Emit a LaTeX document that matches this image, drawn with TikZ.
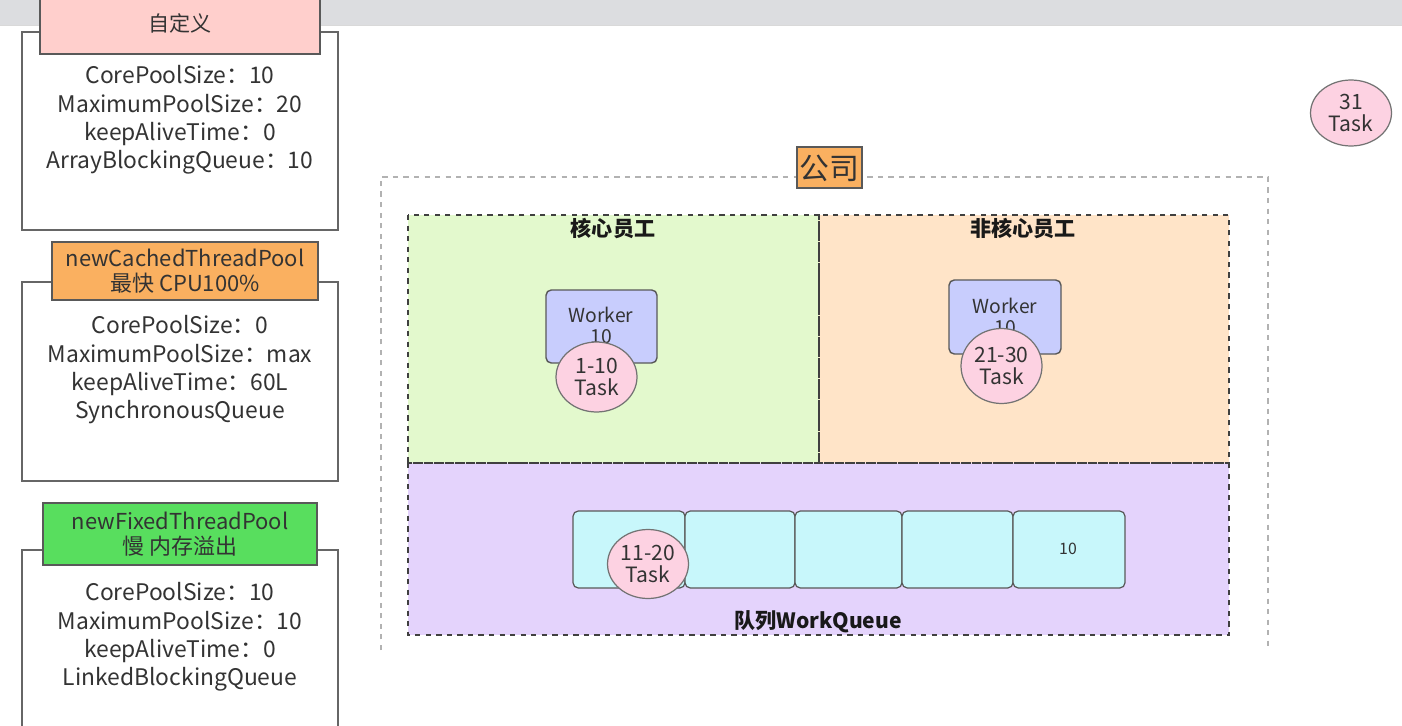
\documentclass[tikz,border=0pt]{standalone}
\usepackage{fontspec}
\setmainfont{Noto Sans CJK SC}
\usetikzlibrary{shapes.geometric}
\definecolor{bandgray}{HTML}{DCDDE0}
\definecolor{hdrpink}{HTML}{FFCFCC}
\definecolor{hdrorange}{HTML}{FAB060}
\definecolor{hdrgreen}{HTML}{58DE5E}
\definecolor{coregreen}{HTML}{E3F9CD}
\definecolor{extraorange}{HTML}{FFE4C8}
\definecolor{queuepurple}{HTML}{E4D3FC}
\definecolor{workerblue}{HTML}{C8CDFD}
\definecolor{taskpink}{HTML}{FDD2E2}
\definecolor{cellcyan}{HTML}{C8F7FB}
\definecolor{inkgray}{HTML}{333333}
\tikzset{
  hdr/.style = {draw = black!65, line width = 0.7pt},
  infobox/.style = {draw = black!60, line width = 0.7pt, fill = white},
  infotext/.style = {align = center, text = inkgray, font = \fontsize{13}{16.1}\selectfont},
  hdrtext/.style = {align = center, text = inkgray, font = \fontsize{12.5}{14.5}\selectfont},
  region/.style = {draw = black!75, dashed, line width = 0.8pt},
  worker/.style = {draw = black!65, line width = 0.8pt, fill = workerblue, rounded corners = 3pt},
  task/.style = {ellipse, draw = black!55, line width = 0.7pt, fill = taskpink, inner sep = 0pt,
    minimum width = 1.62cm, align = center, text = inkgray, font = \fontsize{12}{13}\selectfont},
  cell/.style = {draw = black!65, line width = 0.7pt, fill = cellcyan, rounded corners = 3pt},
  title/.style = {text = black!90, font = \bfseries\fontsize{12}{14}\selectfont}
}
\begin{document}
\begin{tikzpicture}[x = 0.02cm, y = -0.02cm]
  \useasboundingbox (0, 0) rectangle (1402, 726);
  \clip (0, 0) rectangle (1402, 726);
  \fill [white] (0, 0) rectangle (1402, 726);
  \fill [bandgray] (0, 0) rectangle (1402, 25);
  \draw [black!15] (0, 25) -- (1402, 25);

  \draw [infobox] (22, 32) rectangle (338, 230);
  \draw [hdr, fill = hdrpink] (40, -5) rectangle (320, 54);
  \node [hdrtext, font = \fontsize{12}{14}\selectfont] (customhdr) at (180, 23) {自定义};
  \node [infotext] (custominfo) at (180, 120)
    {CorePoolSize：10\\MaximumPoolSize：20\\keepAliveTime：0\\ArrayBlockingQueue：10};

  \draw [infobox] (22, 282) rectangle (338, 481);
  \draw [hdr, fill = hdrorange] (52, 242) rectangle (318, 300);
  \node [hdrtext] (cachedhdr) at (185, 271) {newCachedThreadPool\\最快 CPU100\%};
  \node [infotext] (cachedinfo) at (180, 370)
    {CorePoolSize：0\\MaximumPoolSize：max\\keepAliveTime：60L\\SynchronousQueue};

  \draw [infobox] (22, 550) rectangle (338, 760);
  \draw [hdr, fill = hdrgreen] (43, 503) rectangle (317, 565);
  \node [hdrtext] (fixedhdr) at (180, 534) {newFixedThreadPool\\慢 内存溢出};
  \node [infotext] (fixedinfo) at (180, 637)
    {CorePoolSize：10\\MaximumPoolSize：10\\keepAliveTime：0\\LinkedBlockingQueue};

  \draw [black!30, dashed, line width = 0.6pt] (381, 650) -- (381, 177) -- (1268, 177) -- (1268, 650);
  \draw [hdr, fill = hdrorange] (797, 147) rectangle (862, 188);
  \node [text = inkgray, font = \fontsize{17}{19}\selectfont] (company) at (829.5, 168) {公司};

  \fill [coregreen] (408, 215) rectangle (819, 463);
  \fill [extraorange] (819, 215) rectangle (1229, 463);
  \fill [queuepurple] (408, 463) rectangle (1229, 635);
  \draw [region] (408, 215) rectangle (819, 463);
  \draw [region] (819, 215) rectangle (1229, 463);
  \draw [region] (408, 463) rectangle (1229, 635);
  \node [title] (coretitle) at (613, 228) {核心员工};
  \node [title] (extratitle) at (1023, 228) {非核心员工};
  \node [title] (queuetitle) at (818, 622) {队列WorkQueue};

  \draw [worker] (546, 290) rectangle (657, 363);
  \node [align = center, text = inkgray, font = \fontsize{11}{12}\selectfont] (coreworker) at (601, 325) {Worker\\10};
  \node [task, minimum height = 1.4cm] (coretask) at (596.5, 377) {1-10\\Task};

  \draw [worker] (949, 280) rectangle (1061, 354);
  \node [align = center, text = inkgray, font = \fontsize{11}{12}\selectfont] (extraworker) at (1005, 316) {Worker\\10};
  \node [task, minimum height = 1.5cm] (extratask) at (1001.5, 366) {21-30\\Task};

  \foreach \a/\b in {573/685, 685/795, 795/902, 902/1013, 1013/1125}{
    \draw [cell] (\a, 511) rectangle (\b, 588);
  }
  \node [text = inkgray, font = \fontsize{9}{10}\selectfont] (lastcell) at (1068, 549) {10};
  \node [task, minimum height = 1.38cm] (queuetask) at (648, 564) {11-20\\Task};

  \node [task, minimum height = 1.32cm] (newtask) at (1351, 113) {31\\Task};
\end{tikzpicture}
\end{document}
